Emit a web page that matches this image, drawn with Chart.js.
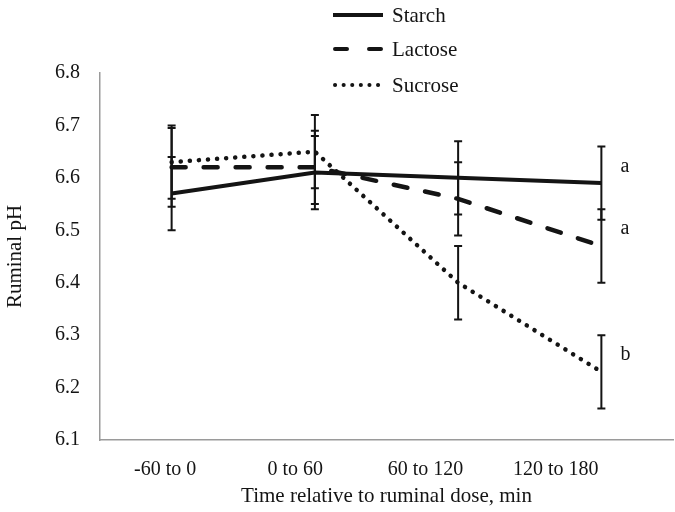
<!DOCTYPE html>
<html>
<head>
<meta charset="utf-8">
<script src="https://cdn.jsdelivr.net/npm/chart.js@4"></script>
<style>
  html, body { margin: 0; padding: 0; background: #fff; }
  #wrap { width: 675px; height: 512px; }
</style>
</head>
<body>
<div id="wrap"><canvas id="c" width="675" height="512"></canvas></div>
<script>
// ---- data ----
const timeLabels = ['-60 to 0', '0 to 60', '60 to 120', '120 to 180'];
const seriesNames = ['Starch', 'Lactose', 'Sucrose'];
const starch  = [6.57, 6.61, 6.60, 6.59];
const lactose = [6.62, 6.62, 6.56, 6.47];
const sucrose = [6.63, 6.65, 6.40, 6.23];
const starchErr  = [0.07, 0.07, 0.07, 0.07];
const lactoseErr = [0.075, 0.07, 0.07, 0.07];
const sucroseErr = [0.07, 0.07, 0.07, 0.07];
const sigLetters = ['a', 'a', 'b'];
const yTicks = [6.1, 6.2, 6.3, 6.4, 6.5, 6.6, 6.7, 6.8];

const FONT = '"Liberation Serif", "Times New Roman", serif';
const INK = '#141414';

const errs = [starchErr, lactoseErr, sucroseErr];
const dashes = [[], [14, 18], [0.1, 9]];
const legendDashes = [[], [12, 22], [0.1, 8.5]];

const errorBars = {
  id: 'errorBars',
  afterDatasetsDraw(chart) {
    const ctx = chart.ctx, y = chart.scales.y;
    ctx.save();
    ctx.strokeStyle = INK;
    ctx.lineWidth = 2;
    ctx.lineCap = 'butt';
    chart.data.datasets.forEach((ds, di) => {
      const meta = chart.getDatasetMeta(di);
      ds.data.forEach((v, i) => {
        const x = meta.data[i].x;
        const t = y.getPixelForValue(v + errs[di][i]);
        const b = y.getPixelForValue(v - errs[di][i]);
        ctx.beginPath();
        ctx.moveTo(x, t); ctx.lineTo(x, b);
        ctx.moveTo(x - 4, t); ctx.lineTo(x + 4, t);
        ctx.moveTo(x - 4, b); ctx.lineTo(x + 4, b);
        ctx.stroke();
      });
    });
    // significance letters at last time point
    ctx.fillStyle = INK;
    ctx.font = '20px ' + FONT;
    ctx.textAlign = 'left';
    ctx.textBaseline = 'middle';
    chart.data.datasets.forEach((ds, di) => {
      const meta = chart.getDatasetMeta(di);
      const last = ds.data.length - 1;
      const x = meta.data[last].x + 19;
      const yy = y.getPixelForValue(ds.data[last] + 0.032);
      ctx.fillText(sigLetters[di], x, yy);
    });
    ctx.restore();
  }
};

const customLegend = {
  id: 'customLegend',
  afterDraw(chart) {
    const ctx = chart.ctx;
    ctx.save();
    const x0 = 333, x1 = 383, ys = [15, 49, 85];
    chart.data.datasets.forEach((ds, di) => {
      ctx.strokeStyle = INK;
      ctx.lineWidth = 4;
      ctx.lineCap = di === 0 ? 'butt' : 'round';
      ctx.setLineDash(legendDashes[di]);
      ctx.beginPath();
      ctx.moveTo(x0 + (di === 0 ? 0 : 2), ys[di]);
      ctx.lineTo(x1, ys[di]);
      ctx.stroke();
      ctx.setLineDash([]);
      ctx.fillStyle = INK;
      ctx.font = '21px ' + FONT;
      ctx.textAlign = 'left';
      ctx.textBaseline = 'middle';
      ctx.fillText(ds.label, 392, ys[di] + 1);
    });
    ctx.restore();
  }
};

const values = [starch, lactose, sucrose];
new Chart(document.getElementById('c'), {
  type: 'line',
  data: {
    labels: timeLabels,
    datasets: seriesNames.map((n, i) => ({
      label: n,
      data: values[i],
      borderColor: INK,
      borderWidth: i === 0 ? 4 : 4.5,
      borderDash: dashes[i],
      borderCapStyle: i === 0 ? 'butt' : 'round',
      pointRadius: 0,
      tension: 0,
      fill: false,
      xAxisID: 'x',
      yAxisID: 'y'
    }))
  },
  options: {
    responsive: false,
    animation: false,
    events: [],
    layout: { padding: { top: 73, right: 2, left: 3, bottom: 0 } },
    plugins: { legend: { display: false }, tooltip: { enabled: false } },
    scales: {
      x: {
        type: 'category',
        display: false,
        offset: true
      },
      x2: {
        type: 'linear',
        position: 'bottom',
        min: -0.5,
        max: 3.9,
        grid: { display: false, drawTicks: false },
        border: { display: true, color: '#9a9a9a', width: 1.5 },
        afterBuildTicks: (axis) => { axis.ticks = timeLabels.map((_, i) => ({ value: i })); },
        afterFit: (s) => { s.height = 72; },
        ticks: {
          autoSkip: false, maxRotation: 0, padding: 18,
          color: INK, font: { family: FONT, size: 20 },
          callback: (v) => timeLabels[v] !== undefined ? timeLabels[v] : ''
        },
        title: {
          display: true, text: 'Time relative to ruminal dose, min',
          color: INK, font: { family: FONT, size: 21 }, padding: { top: 0, bottom: 3 }
        }
      },
      y: {
        min: 6.1, max: 6.8,
        grid: { display: false, drawTicks: false },
        border: { display: true, color: '#9a9a9a', width: 1.5 },
        afterBuildTicks: (axis) => { axis.ticks = yTicks.map(v => ({ value: v })); },
        afterFit: (s) => { s.width = 97; },
        ticks: {
          padding: 20, color: INK, font: { family: FONT, size: 20 },
          callback: (v) => Number(v).toFixed(1)
        },
        title: {
          display: true, text: 'Ruminal pH',
          color: INK, font: { family: FONT, size: 21 }, padding: { top: 0, bottom: 0 }
        }
      }
    }
  },
  plugins: [errorBars, customLegend]
});
</script>
</body>
</html>
